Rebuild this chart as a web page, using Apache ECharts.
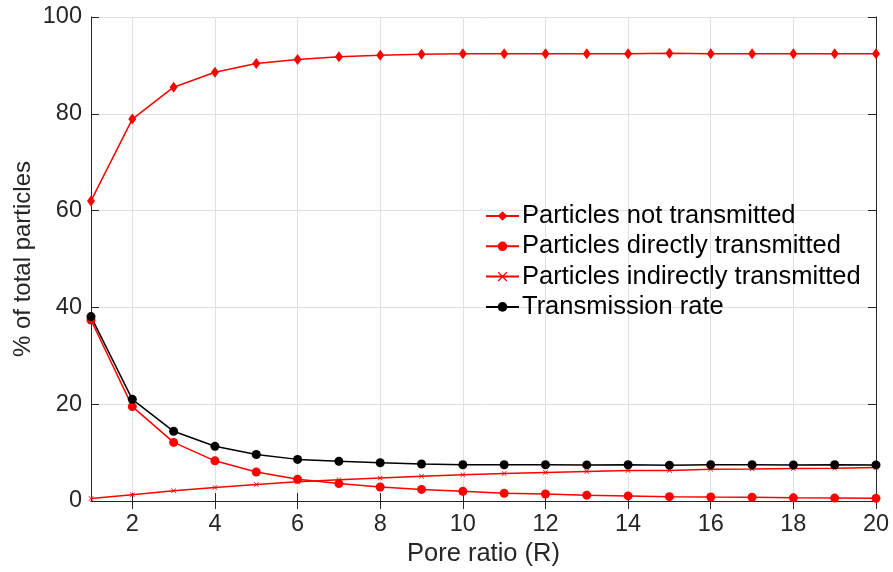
<!DOCTYPE html>
<html>
<head>
<meta charset="utf-8">
<script src="https://cdn.jsdelivr.net/npm/echarts@6/dist/echarts.min.js"></script>
<style>
  html, body { margin: 0; padding: 0; background: #fff; }
  #chart { width: 893px; height: 572px; }
</style>
</head>
<body>
<div id="chart"></div>
<script>
// Pore ratio R = 1 .. 20
const poreRatio = [1, 2, 3, 4, 5, 6, 7, 8, 9, 10, 11, 12, 13, 14, 15, 16, 17, 18, 19, 20];

// Percent of total particles for each outcome
const notTransmitted = [62.0, 78.9, 85.5, 88.6, 90.4, 91.2, 91.8, 92.1, 92.3, 92.4, 92.4, 92.4, 92.4, 92.4, 92.5, 92.4, 92.4, 92.4, 92.4, 92.4];
const directlyTransmitted = [37.4, 19.5, 12.1, 8.3, 6.0, 4.5, 3.6, 2.9, 2.4, 2.0, 1.6, 1.45, 1.2, 1.05, 0.9, 0.83, 0.77, 0.65, 0.6, 0.55];
const indirectlyTransmitted = [0.5, 1.3, 2.1, 2.8, 3.4, 4.0, 4.4, 4.75, 5.1, 5.4, 5.7, 5.9, 6.1, 6.3, 6.3, 6.55, 6.6, 6.7, 6.75, 6.9];
const transmissionRate = [38.1, 21.0, 14.4, 11.3, 9.6, 8.6, 8.2, 7.9, 7.65, 7.5, 7.5, 7.5, 7.45, 7.5, 7.4, 7.5, 7.5, 7.45, 7.5, 7.45];

const xTicks = [2, 4, 6, 8, 10, 12, 14, 16, 18, 20];
const seriesNames = ['Particles not transmitted', 'Particles directly transmitted', 'Particles indirectly transmitted', 'Transmission rate'];

const FONT = 'Liberation Sans, Arial, sans-serif';
const AXIS_COLOR = '#262626';
const GRID_COLOR = '#e0e0e0';
const CROSS = 'path://M0,1L1,0L5,4L9,0L10,1L6,5L10,9L9,10L5,6L1,10L0,9L4,5Z';

function pairs(ys) { return poreRatio.map((x, i) => [x, ys[i]]); }

function lineSeries(name, ys, color, symbol, size) {
  return {
    name, type: 'line', data: pairs(ys),
    symbol, symbolSize: size,
    lineStyle: { color, width: 1.5 },
    itemStyle: { color },
    emphasis: { disabled: true },
    animation: false
  };
}

const chart = echarts.init(document.getElementById('chart'), null, { renderer: 'canvas' });
chart.setOption({
  backgroundColor: '#ffffff',
  grid: { left: 91, right: 17, top: 17, bottom: 71, containLabel: false },
  legend: {
    orient: 'vertical',
    left: 480, top: 198,
    itemWidth: 33, itemHeight: 12, itemGap: 4.3,
    textStyle: { fontFamily: FONT, fontSize: 25.5, lineHeight: 26, color: '#000', padding: [0, 0, 0, -2] },
    data: seriesNames
  },
  xAxis: [{
    type: 'value', min: 1, max: 20,
    name: 'Pore ratio (R)', nameLocation: 'middle', nameGap: 40, nameMoveOverlap: false,
    nameTextStyle: { fontFamily: FONT, fontSize: 25.5, color: AXIS_COLOR },
    axisLine: { show: true, lineStyle: { color: AXIS_COLOR, width: 1 } },
    axisTick: { show: true, inside: true, length: 8, customValues: xTicks, lineStyle: { color: AXIS_COLOR } },
    axisLabel: { customValues: xTicks, fontFamily: FONT, fontSize: 23.5, color: AXIS_COLOR, margin: 12 },
    splitLine: { show: true, lineStyle: { color: GRID_COLOR, width: 1 } }
  }, {
    type: 'value', min: 1, max: 20, position: 'top',
    axisLine: { show: true, lineStyle: { color: AXIS_COLOR, width: 1 } },
    axisTick: { show: true, inside: true, length: 8, customValues: xTicks, lineStyle: { color: AXIS_COLOR } },
    axisLabel: { show: false },
    splitLine: { show: false }
  }],
  yAxis: [{
    type: 'value', min: 0, max: 100, interval: 20,
    name: '% of total particles', nameLocation: 'middle', nameGap: 56, nameMoveOverlap: false,
    nameTextStyle: { fontFamily: FONT, fontSize: 24, color: AXIS_COLOR },
    axisLine: { show: true, lineStyle: { color: AXIS_COLOR, width: 1 } },
    axisTick: { show: true, inside: true, length: 8, lineStyle: { color: AXIS_COLOR } },
    axisLabel: { fontFamily: FONT, fontSize: 23.5, color: AXIS_COLOR, margin: 9 },
    splitLine: { show: true, lineStyle: { color: GRID_COLOR, width: 1 } }
  }, {
    type: 'value', min: 0, max: 100, interval: 20, position: 'right',
    axisLine: { show: true, lineStyle: { color: AXIS_COLOR, width: 1 } },
    axisTick: { show: true, inside: true, length: 8, lineStyle: { color: AXIS_COLOR } },
    axisLabel: { show: false },
    splitLine: { show: false }
  }],
  series: [
    lineSeries(seriesNames[0], notTransmitted, '#ff0000', 'diamond', [8, 11]),
    lineSeries(seriesNames[1], directlyTransmitted, '#ff0000', 'circle', 9),
    lineSeries(seriesNames[2], indirectlyTransmitted, '#ff0000', CROSS, 5),
    lineSeries(seriesNames[3], transmissionRate, '#000000', 'circle', 9)
  ]
});
</script>
</body>
</html>
